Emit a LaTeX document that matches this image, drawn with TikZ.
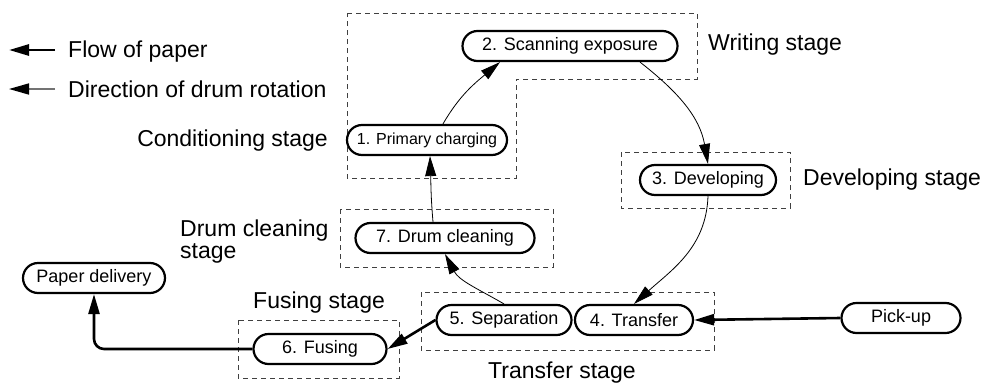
\documentclass[tikz,border=0pt]{standalone}
\usepackage{fontspec}
\setmainfont{Liberation Sans}
\usetikzlibrary{arrows.meta}
\begin{document}
\begin{tikzpicture}[x=1pt,y=1pt,
  stagebox/.style={rectangle, draw, line width=2.2pt, rounded corners=15pt, minimum height=30pt, inner sep=0pt, font=\fontsize{18}{20}\selectfont},
  lbl/.style={font=\fontsize{23}{22}\selectfont, inner sep=0pt},
  dbox/.style={draw=black!75, line width=0.9pt, dash pattern=on 5pt off 4pt},
  drumarrow/.style={line width=0.8pt, -{Triangle[length=20pt,width=11pt]}},
  paperarrow/.style={line width=2.6pt, -{Triangle[length=20pt,width=11pt]}}]
\useasboundingbox (0,0) rectangle (982,-383);

% dashed stage boxes
\draw[dbox] (347,-13) -- (697,-13) -- (697,-79) -- (516,-79) -- (516,-178) -- (347,-178) -- cycle;
\draw[dbox] (621,-152) rectangle (790,-208);
\draw[dbox] (340,-209) rectangle (553,-267);
\draw[dbox] (238,-320) rectangle (399,-378);
\draw[dbox] (421,-292) rectangle (714,-350);

% legend
\coordinate (f1) at (55,-50); \coordinate (f2) at (9,-50);
\coordinate (d1) at (55,-89); \coordinate (d2) at (9,-89);
\draw[paperarrow, line width=2.8pt] (f1) -- (f2);
\draw[draw=black!55, line width=1.6pt, -{Triangle[length=20pt,width=11pt,color=black]}] (d1) -- (d2);
\node[lbl, anchor=base west] (lf) at (68,-57) {Flow of paper};
\node[lbl, anchor=base west] (ld) at (68,-97) {Direction of drum rotation};

% stage labels
\node[lbl, anchor=base east] (lc) at (328,-146) {Conditioning stage};
\node[lbl, anchor=base west] (lw) at (708,-50) {Writing stage};
\node[lbl, anchor=base west] (ldv) at (803,-185) {Developing stage};
\node[lbl, anchor=west, align=left] (ldc) at (180,-242) {Drum cleaning\\stage};
\node[lbl, anchor=base west] (lfu) at (253,-308) {Fusing stage};
\node[lbl, anchor=base west] (ltr) at (488,-378) {Transfer stage};

% process nodes
\node[stagebox, minimum width=215pt] (n2) at (570,-46) {2. Scanning exposure};
\node[stagebox, minimum width=160pt, font=\fontsize{16}{18}\selectfont] (n1) at (427,-140) {1. Primary charging};
\node[stagebox, minimum width=136pt] (n3) at (708,-180) {3. Developing};
\node[stagebox, minimum width=179pt] (n7) at (445,-238) {7. Drum cleaning};
\node[stagebox, minimum width=135pt] (n5) at (504,-320) {5. Separation};
\node[stagebox, minimum width=118pt] (n4) at (634,-320) {4. Transfer};
\node[stagebox, minimum width=119pt] (pu) at (901,-318) {Pick-up};
\node[stagebox, minimum width=133pt] (n6) at (320,-349) {6. Fusing};
\node[stagebox, minimum width=142pt] (pd) at (94,-278) {Paper delivery};

% paper flow
\draw[paperarrow] (pu.west) -- (n4.east);
\draw[paperarrow] (n5.west) -- (n6.east);
\draw[paperarrow, rounded corners=10pt] (n6.west) -| (pd.south);

% drum rotation
\draw[drumarrow] ([xshift=16pt]n1.north) to[out=60,in=-140] ([xshift=-70pt]n2.south);
\draw[drumarrow] ([xshift=70pt]n2.south) to[out=-38,in=100] (n3.north);
\draw[drumarrow] (n3.south) to[out=-92,in=42] (n4.north);
\draw[drumarrow] (n5.north) to[out=150,in=-62] (n7.south);
\draw[drumarrow] ([xshift=-12pt]n7.north) to[out=95,in=-88] ([xshift=3pt]n1.south);
\end{tikzpicture}
\end{document}
